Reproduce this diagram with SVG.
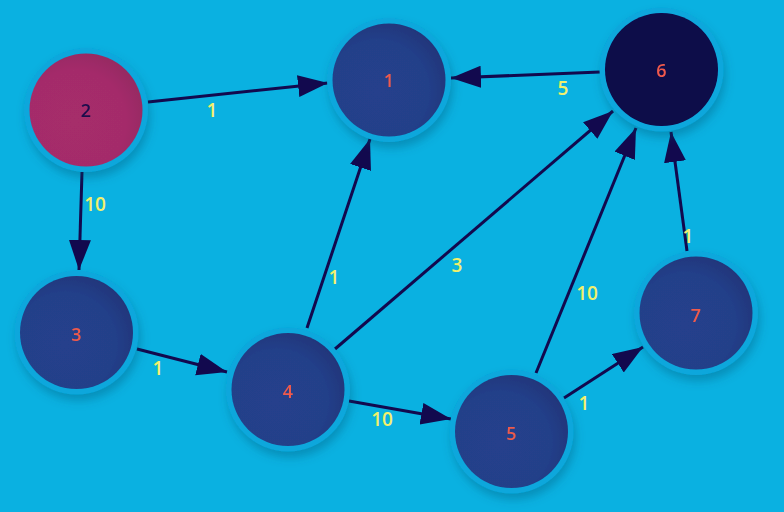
<svg xmlns="http://www.w3.org/2000/svg" width="784" height="512" viewBox="0 0 784 512">
<defs>
<style>
.ring{fill:#0aa7dc;}
.blue{fill:url(#gb);}
.nlab{font-family:"Open Sans","DejaVu Sans",sans-serif;font-size:18px;font-weight:600;fill:#ef5a4c;text-anchor:middle;dominant-baseline:central;}
.elab{font-family:"Open Sans","DejaVu Sans",sans-serif;font-size:19px;font-weight:600;fill:#f2f06c;text-anchor:middle;dominant-baseline:central;}
.edge{stroke:#12094e;stroke-width:3;fill:none;marker-end:url(#arr);}
</style>
<radialGradient id="gb" cx="0.4" cy="0.6" r="0.65">
<stop offset="0" stop-color="#25418c"/>
<stop offset="0.7" stop-color="#243f89"/>
<stop offset="1" stop-color="#22357a"/>
</radialGradient>
<radialGradient id="gm" cx="0.4" cy="0.6" r="0.65">
<stop offset="0" stop-color="#a62d6b"/>
<stop offset="0.7" stop-color="#a42c6a"/>
<stop offset="1" stop-color="#952a62"/>
</radialGradient>
<filter id="sh" x="-30%" y="-30%" width="160%" height="170%">
<feDropShadow dx="2" dy="6" stdDeviation="5" flood-color="#005070" flood-opacity="0.35"/>
</filter>
<marker id="arr" markerUnits="userSpaceOnUse" markerWidth="32" markerHeight="24" refX="30" refY="11" orient="auto">
<path d="M0,0 L30,11 L0,22 z" fill="#12094e"/>
</marker>
</defs>
<rect width="784" height="512" fill="#0ab1e1"/>
<g id="connectors">
<line class="edge" x1="148" y1="102" x2="328" y2="83"/>
<text class="elab" x="212" y="110">1</text>
<line class="edge" x1="600" y1="72" x2="451" y2="78"/>
<text class="elab" x="563" y="88">5</text>
<line class="edge" x1="82" y1="172" x2="79" y2="270"/>
<text class="elab" x="95" y="204">10</text>
<line class="edge" x1="137" y1="349" x2="227" y2="372"/>
<text class="elab" x="158" y="368">1</text>
<line class="edge" x1="307" y1="328" x2="370" y2="139"/>
<text class="elab" x="334" y="277">1</text>
<line class="edge" x1="335" y1="349" x2="613" y2="111"/>
<text class="elab" x="457" y="265">3</text>
<line class="edge" x1="349" y1="401" x2="451" y2="419"/>
<text class="elab" x="382" y="419">10</text>
<line class="edge" x1="536" y1="373" x2="636" y2="128"/>
<text class="elab" x="587" y="293">10</text>
<line class="edge" x1="564" y1="398" x2="643" y2="347"/>
<text class="elab" x="584" y="403">1</text>
<line class="edge" x1="687" y1="251" x2="671" y2="132"/>
<text class="elab" x="688" y="236">1</text>
</g>
<g id="node1" filter="url(#sh)"><circle class="ring" cx="389" cy="80" r="62"/><circle class="blue" cx="389" cy="80" r="56.5"/><text class="nlab" x="389" y="80">1</text></g>
<g id="node2" filter="url(#sh)"><circle class="ring" cx="86" cy="110" r="62"/><circle fill="url(#gm)" cx="86" cy="110" r="56.5"/><text class="nlab" x="86" y="110" style="fill:#1c0c4c">2</text></g>
<g id="node3" filter="url(#sh)"><circle class="ring" cx="76.5" cy="332.5" r="62"/><circle class="blue" cx="76.5" cy="332.5" r="56.5"/><text class="nlab" x="76.5" y="334">3</text></g>
<g id="node4" filter="url(#sh)"><circle class="ring" cx="288" cy="389.5" r="62"/><circle class="blue" cx="288" cy="389.5" r="56.5"/><text class="nlab" x="288" y="391">4</text></g>
<g id="node5" filter="url(#sh)"><circle class="ring" cx="511.5" cy="431.5" r="62"/><circle class="blue" cx="511.5" cy="431.5" r="56.5"/><text class="nlab" x="511.5" y="433">5</text></g>
<g id="node6" filter="url(#sh)"><circle class="ring" cx="661.5" cy="69.5" r="62"/><circle fill="#10084a" cx="661.5" cy="69.5" r="56.5"/><text class="nlab" x="661.5" y="70">6</text></g>
<g id="node7" filter="url(#sh)"><circle class="ring" cx="696" cy="313" r="62"/><circle class="blue" cx="696" cy="313" r="56.5"/><text class="nlab" x="696" y="315">7</text></g>
</svg>
